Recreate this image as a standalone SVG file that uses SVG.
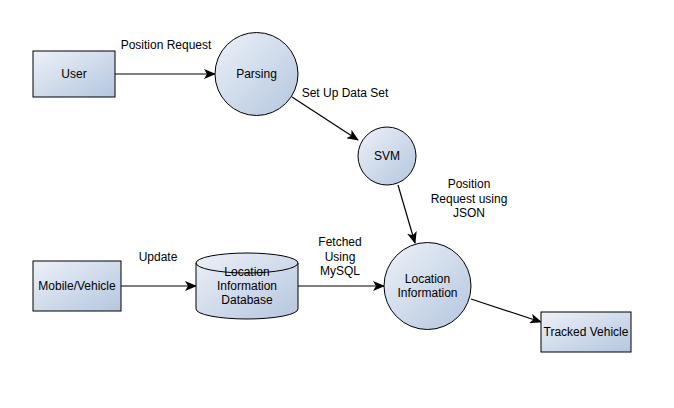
<svg xmlns="http://www.w3.org/2000/svg" width="674" height="408" viewBox="0 0 674 408">
<defs>
<linearGradient id="g" x1="0" y1="0" x2="1" y2="1">
<stop offset="0" stop-color="#edf1f8"/>
<stop offset="1" stop-color="#b4c6df"/>
</linearGradient>
<marker id="a" viewBox="0 0 12 10" refX="11" refY="5" markerWidth="12" markerHeight="10" markerUnits="userSpaceOnUse" orient="auto">
<path d="M0,0 L12,5 L0,10 L3,5 Z" fill="#000"/>
</marker>
</defs>
<style>
.n{fill:url(#g);stroke:#000;stroke-width:1}
.c{fill:none;stroke:#000;stroke-width:1.2;marker-end:url(#a)}
text{font-family:"Liberation Sans",Arial,sans-serif;font-size:12px;fill:#000;text-anchor:middle}
</style>
<rect width="674" height="408" fill="#fff"/>
<g id="connectors">
<line class="c" x1="115" y1="74" x2="215" y2="74"/>
<line class="c" x1="292" y1="97" x2="358" y2="140"/>
<line class="c" x1="398" y1="185" x2="415" y2="243"/>
<line class="c" x1="121" y1="286" x2="196" y2="286"/>
<line class="c" x1="298" y1="286" x2="384" y2="286"/>
<line class="c" x1="471" y1="299" x2="541" y2="322"/>
<text x="166" y="49">Position Request</text>
<text x="345" y="97">Set Up Data Set</text>
<text x="469" y="188">Position</text>
<text x="469" y="203">Request using</text>
<text x="469" y="217">JSON</text>
<text x="158" y="261">Update</text>
<text x="340" y="246">Fetched</text>
<text x="340" y="261">Using</text>
<text x="340" y="275">MySQL</text>
</g>
<g id="user">
<rect class="n" x="33" y="51" width="82" height="46"/>
<text x="74" y="78">User</text>
</g>
<g id="parsing">
<circle class="n" cx="256.5" cy="74" r="41.5"/>
<text x="256.5" y="78">Parsing</text>
</g>
<g id="svm">
<circle class="n" cx="387" cy="156" r="29"/>
<text x="387" y="160">SVM</text>
</g>
<g id="location-information">
<circle class="n" cx="427.5" cy="286" r="43.5"/>
<text x="427.5" y="283">Location</text>
<text x="427.5" y="297">Information</text>
</g>
<g id="mobile-vehicle">
<rect class="n" x="33" y="261" width="88" height="50"/>
<text x="77" y="290">Mobile/Vehicle</text>
</g>
<g id="database">
<path class="n" d="M196,263 A51,10 0 0 1 298,263 L298,309 A51,10 0 0 1 196,309 Z"/>
<path d="M196,263 A51,10 0 0 0 298,263" fill="none" stroke="#000"/>
<text x="247" y="276">Location</text>
<text x="247" y="290">Information</text>
<text x="247" y="304">Database</text>
</g>
<g id="tracked-vehicle">
<rect class="n" x="541" y="312" width="90" height="40"/>
<text x="586" y="336">Tracked Vehicle</text>
</g>
</svg>
